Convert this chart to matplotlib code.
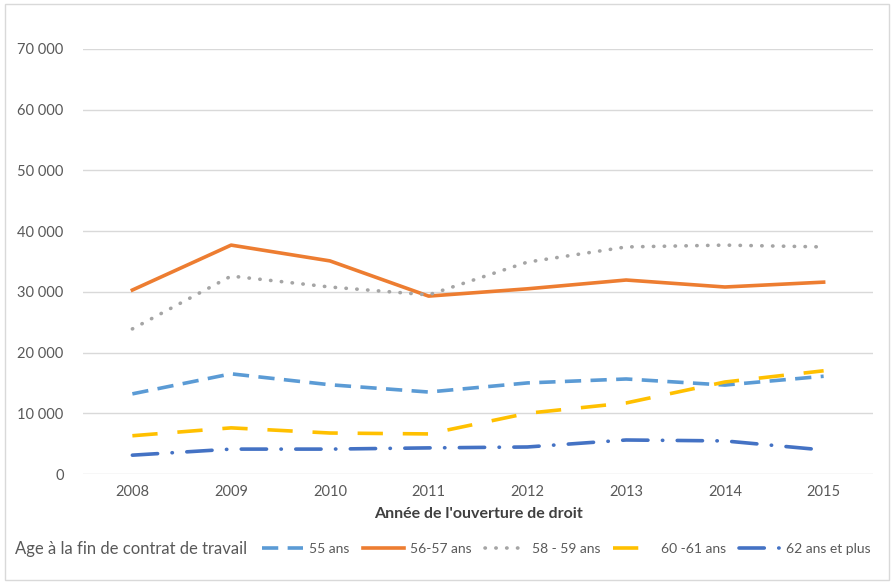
import numpy as np
import matplotlib.pyplot as plt
from matplotlib.patches import Rectangle

plt.rcParams['font.family'] = ['Lato', 'DejaVu Sans']

years = ['2008', '2009', '2010', '2011', '2012', '2013', '2014', '2015']
age_55 = [13200, 16500, 14700, 13500, 15000, 15650, 14650, 16100]
age_56_57 = [30300, 37700, 35100, 29300, 30500, 31950, 30800, 31600]
age_58_59 = [23900, 32600, 30800, 29500, 34900, 37400, 37700, 37400]
age_60_61 = [6300, 7600, 6750, 6600, 10000, 11700, 15150, 17000]
age_62_plus = [3100, 4100, 4100, 4300, 4450, 5600, 5450, 3950]
labels = ['55 ans', '56-57 ans', '58 - 59 ans', '60 -61 ans', '62 ans et plus']
yticks = np.arange(0, 70001, 10000)

fig = plt.figure(figsize=(8.92, 5.82), dpi=100)
ax = fig.add_axes([83/892, 108/582, 790/892, 425/582])

x = np.arange(len(years))
lw = 2.6
ax.plot(x, age_55, color='#5B9BD5', lw=lw, dashes=(4.5, 2.6), label=labels[0])
ax.plot(x, age_56_57, color='#ED7D31', lw=lw, label=labels[1])
ax.plot(x, age_58_59, color='#A5A5A5', lw=lw, dashes=(0.1, 2.9),
        dash_capstyle='round', label=labels[2])
ax.plot(x, age_60_61, color='#FFC000', lw=lw, dashes=(7, 5.5), label=labels[3])
ax.plot(x, age_62_plus, color='#4472C4', lw=lw, dashes=(7, 4, 0.1, 4),
        dash_capstyle='round', label=labels[4])

ax.set_xlim(-0.5, len(years) - 0.5)
ax.set_ylim(0, 70000)
ax.set_yticks(yticks)
ax.set_yticklabels([f'{v:,}'.replace(',', ' ') for v in yticks])
ax.set_xticks(x)
ax.set_xticklabels(years)
ax.grid(axis='y', color='#D9D9D9', lw=1)
ax.set_axisbelow(True)
for s in ['top', 'right', 'left', 'bottom']:
    ax.spines[s].set_visible(False)
ax.tick_params(length=0, labelsize=10.5, colors='#595959', pad=8)
ax.tick_params(axis='y', pad=14)
ax.set_xlabel("Année de l'ouverture de droit", fontsize=11.5, fontweight='bold',
              color='#404040', labelpad=6)

fig.text(15/892, 1 - 549/582, 'Age à la fin de contrat de travail', fontsize=12,
         color='#595959', va='center', ha='left')
fig.legend(loc='center left', bbox_to_anchor=(252/892, 1 - 549/582), ncol=5,
           frameon=False, fontsize=10, handlelength=3.0, handletextpad=0.4,
           columnspacing=0.95, labelcolor='#595959', borderpad=0.2)

fig.patches.append(Rectangle((5/892, 2/582), 884/892, 576/582, transform=fig.transFigure,
                             fill=False, edgecolor='#D9D9D9', lw=1))

fig.savefig('out.png', dpi=100)
